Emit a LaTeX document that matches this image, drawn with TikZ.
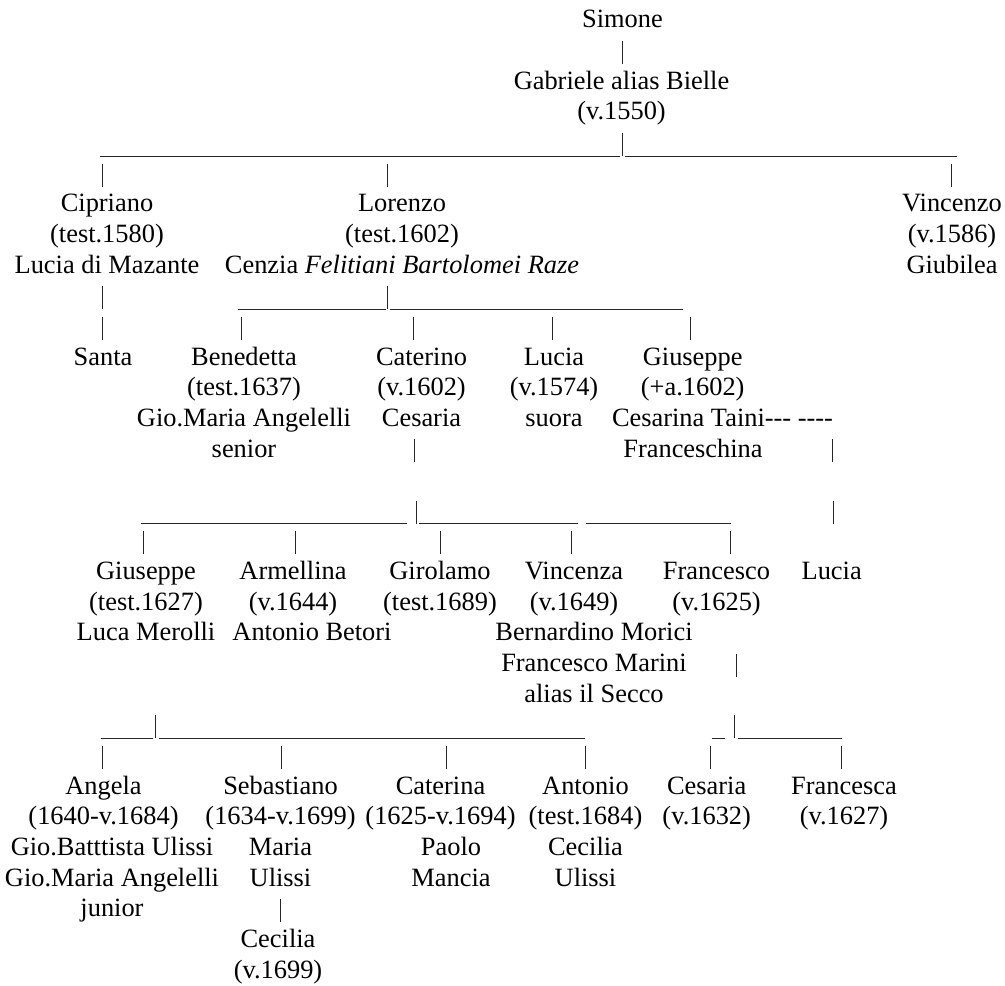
\documentclass[tikz,border=0pt]{standalone}
\usepackage{fontspec}
\setmainfont{Liberation Serif}[Ligatures=TeXOff]
\usetikzlibrary{positioning}

\newcommand{\famfont}{\fontsize{26.4}{30.65}\selectfont}
\tikzset{
    person/.style={anchor=base, align=center, inner sep=0pt, font=\famfont},
    stem/.style={line width=0.9pt, black!85},
    rule/.style={line width=1pt, black!85}
}

\begin{document}
\begin{tikzpicture}[x=1pt, y=30.65pt]
        % Page frame (one unit of y is one text line, nodes sit on their last line)
        \useasboundingbox (0,0.9135) rectangle (1005,-31.224);

        % First generations
        \node[person] (simone) at (622.5,0) {Simone};
        \node[person] (gabriele) at (621.5,-3) {Gabriele alias Bielle\\(v.1550)};

        % Children of Gabriele
        \node[person] (cipriano) at (107,-8) {Cipriano\\(test.1580)\\Lucia di Mazante};
        \node[person] (lorenzo) at (402,-8) {Lorenzo\\(test.1602)\\Cenzia \textit{Felitiani Bartolomei Raze}};
        \node[person] (vincenzo) at (952,-8) {Vincenzo\\(v.1586)\\Giubilea};

        % Grandchildren
        \node[person] (santa) at (103,-11) {Santa};
        \node[person] (benedetta) at (244,-14) {Benedetta\\(test.1637)\\Gio.Maria Angelelli\\senior};
        \node[person] (caterino) at (421.5,-13) {Caterino\\(v.1602)\\Cesaria};
        \node[person] (luciaA) at (554,-13) {Lucia\\(v.1574)\\suora};
        \node[person] (giuseppeA) at (692.7,-12) {Giuseppe\\(+a.1602)};
        \node[person] (cesarina) at (722.5,-13) {Cesarina Taini--- ----};
        \node[person] (franceschina) at (693,-14) {Franceschina};

        % Children of Caterino and Giuseppe
        \node[person] (giuseppeB) at (146,-20) {Giuseppe\\(test.1627)\\Luca Merolli};
        \node[person] (armellina) at (293,-19) {Armellina\\(v.1644)};
        \node[person] (betori) at (312,-20) {Antonio Betori};
        \node[person] (girolamo) at (440,-19) {Girolamo\\(test.1689)};
        \node[person] (vincenza) at (574,-19) {Vincenza\\(v.1649)};
        \node[person] (morici) at (594,-22) {Bernardino Morici\\Francesco Marini\\alias il Secco};
        \node[person] (francesco) at (716.5,-19) {Francesco\\(v.1625)};
        \node[person] (luciaB) at (831.7,-18) {Lucia};

        % Last generation
        \node[person] (angela) at (103.5,-26) {Angela\\(1640-v.1684)};
        \node[person] (ulissiA) at (112,-29) {Gio.Batttista Ulissi\\Gio.Maria Angelelli\\junior};
        \node[person] (sebastiano) at (280.5,-28) {Sebastiano\\(1634-v.1699)\\Maria\\Ulissi};
        \node[person] (caterina) at (440.5,-26) {Caterina\\(1625-v.1694)};
        \node[person] (mancia) at (451,-28) {Paolo\\Mancia};
        \node[person] (antonio) at (585.5,-28) {Antonio\\(test.1684)\\Cecilia\\Ulissi};
        \node[person] (cesaria) at (706.7,-26) {Cesaria\\(v.1632)};
        \node[person] (francesca) at (844,-26) {Francesca\\(v.1627)};
        \node[person] (cecilia) at (278,-31) {Cecilia\\(v.1699)};

        % Vertical strokes, x / text line
        \foreach \x/\k in {622.5/1, 622.3/4, 102.7/5, 387.7/5, 951.7/5, 102.7/9, 387.7/9,
                102.7/10, 241/10, 413.7/10, 552.3/10, 690.7/10, 414.3/14, 832.3/14,
                416.3/16, 833/16, 143.3/17, 295/17, 440.7/17, 571.7/17, 730.7/17,
                736/21, 155.7/23, 734.3/23, 102.7/24, 281.7/24, 446.7/24, 585.7/24,
                710/24, 841.7/24, 280/29} {
            \draw[stem] (\x,-\k) ++(0,17.7pt) -- ++(0,-23pt);
        }

        % Horizontal rules, from / to / text line
        \foreach \a/\b/\k in {100/619.5/4, 624.5/957/4, 238.3/385.5/9, 390/683.3/9,
                140.7/406.7/16, 419/578.3/16, 586/730.7/16,
                100.7/153.3/23, 159.3/585/23, 711.7/725/23, 737.7/842.3/23} {
            \draw[rule] ([yshift=-5.5pt]\a,-\k) -- ([yshift=-5.5pt]\b,-\k);
        }
    \end{tikzpicture}
\end{document}
